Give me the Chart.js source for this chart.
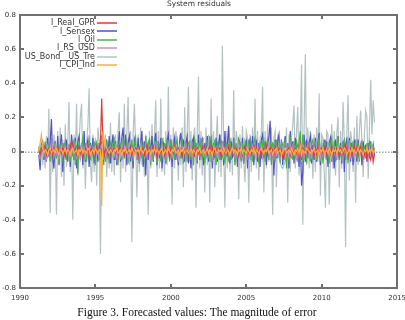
<!DOCTYPE html>
<html>
<head>
<meta charset="utf-8">
<script src="https://cdn.jsdelivr.net/npm/chart.js@4/dist/chart.umd.min.js"></script>
<style>
  html, body { margin: 0; padding: 0; background: #fff; overflow: hidden; width: 405px; height: 320px; }
  #wrap { position: relative; width: 412px; height: 320px; }
  #caption {
    position: absolute; left: 0; top: 305px; width: 394px; text-align: center;
    font-family: "Liberation Serif", serif; font-size: 11.5px; line-height: 14px; color: #111;
  }
</style>
</head>
<body>
<div id="wrap">
  <canvas id="residChart" width="412" height="320"></canvas>
  <div id="caption">Figure 3. Forecasted values: The magnitude of error</div>
</div>
<script>
// monthly residuals, first obs April 1991
const startYear = 1991 + 3 / 12;
const seriesNames = ["l_Real_GPR", "l_Sensex", "l_Oil", "l_RS_USD", "US_Bond__US_Tre", "l_CPI_Ind"];
const xTicks = [1990, 1995, 2000, 2005, 2010, 2015];
const yTicks = [-0.8, -0.6, -0.4, -0.2, 0, 0.2, 0.4, 0.6, 0.8];

const realGpr = [
  0.01, -0.02, 0.02, 0.01, -0.01, 0.03, -0.02, 0.01, 0.02, -0.01, 0.01, -0.02,
  0.02, -0.01, 0.01, 0.03, -0.02, 0.01, -0.01, 0.02, 0.01, -0.03, 0.02, 0.01,
  -0.01, 0.02, 0.06, 0.04, -0.01, 0.02, -0.02, 0.01, 0.03, -0.01, 0.02, -0.03,
  0.01, 0.02, -0.01, 0.03, -0.02, 0.01, 0.02, -0.01, 0.01, -0.02, 0.03, 0.01,
  -0.01, 0.05, 0.31, 0.04, -0.02, 0.01, 0.02, -0.03, 0.01, 0.02, -0.01, 0.01,
  0.02, -0.01, 0.01, -0.02, 0.03, 0.01, -0.01, 0.02, -0.02, 0.01, 0.02, -0.01,
  0.01, 0.03, -0.02, 0.01, -0.01, 0.02, 0.01, -0.03, 0.02, -0.01, 0.01, 0.02,
  -0.02, 0.01, 0.04, -0.01, 0.02, -0.02, 0.01, 0.03, -0.01, 0.02, -0.03, 0.01,
  0.02, -0.01, 0.01, 0.02, -0.02, 0.03, -0.01, 0.01, -0.04, 0.02, 0.01, -0.01,
  0.03, -0.02, 0.01, 0.02, -0.01, 0.01, -0.03, 0.02, 0.01, -0.01, 0.02, -0.02,
  0.01, 0.02, -0.01, 0.03, -0.02, 0.01, 0.02, -0.01, 0.01, -0.02, 0.03, 0.01,
  -0.01, 0.02, -0.02, 0.01, 0.03, -0.01, 0.02, -0.02, 0.01, 0.02, -0.01, 0.01,
  0.02, -0.03, 0.01, 0.02, -0.01, 0.01, -0.02, 0.03, -0.01, 0.02, 0.01, -0.02,
  0.01, 0.02, -0.01, -0.03, 0.02, 0.01, -0.02, 0.01, 0.03, -0.01, 0.02, -0.01,
  0.02, -0.02, 0.01, 0.03, -0.01, 0.02, -0.02, 0.01, 0.02, -0.03, 0.01, 0.02,
  -0.01, 0.03, -0.02, 0.01, 0.02, -0.01, 0.01, -0.02, 0.03, 0.01, -0.01, 0.02,
  -0.02, 0.01, -0.03, -0.04, 0.02, -0.01, 0.01, 0.02, -0.02, 0.03, -0.01, 0.01,
  0.02, -0.01, 0.03, -0.02, 0.04, -0.05, 0.02, 0.01, -0.02, 0.03, -0.01, 0.02,
  -0.01, 0.02, 0.01, -0.03, 0.02, -0.01, 0.03, -0.02, 0.01, 0.02, -0.01, 0.01,
  0.03, -0.02, 0.01, 0.02, -0.01, 0.03, -0.02, 0.01, -0.01, 0.02, 0.01, -0.03,
  0.02, 0.01, -0.02, 0.03, -0.01, 0.02, -0.03, 0.01, 0.02, -0.02, 0.01, 0.03,
  -0.01, 0.02, -0.02, 0.01, 0.03, -0.03, 0.01, -0.02, 0.02, -0.04, 0.01, -0.03,
  -0.05, 0.02, -0.06, -0.02
];

const sensex = [
  -0.02, -0.11, 0.04, 0.06, -0.05, 0.03, -0.06, 0.08, -0.03, 0.05, 0.19, -0.04,
  -0.1, 0.06, -0.04, 0.09, -0.08, 0.03, 0.1, -0.12, 0.05, -0.03, 0.07, -0.06,
  0.04, -0.09, 0.1, 0.02, -0.05, 0.08, -0.1, 0.06, 0.09, -0.04, 0.05, -0.08,
  0.12, -0.06, 0.03, 0.07, -0.09, 0.05, -0.03, 0.08, -0.07, 0.04, 0.02, -0.06,
  0.05, -0.04, 0.06, -0.08, 0.03, -0.05, 0.07, -0.03, 0.09, -0.07, 0.04, 0.1,
  -0.05, 0.06, -0.08, 0.03, 0.12, -0.06, 0.08, 0.14, -0.04, 0.1, -0.08, 0.05,
  0.09, -0.06, 0.04, -0.1, 0.07, 0.03, -0.05, 0.08, -0.07, 0.05, 0.12, -0.09,
  0.06, -0.14, 0.04, -0.05, 0.07, -0.03, 0.09, -0.06, 0.05, 0.11, -0.08, 0.06,
  -0.04, 0.08, -0.1, 0.05, 0.03, -0.07, 0.06, 0.1, -0.05, 0.07, -0.09, 0.04,
  0.08, -0.05, 0.03, -0.08, 0.06, 0.11, -0.04, 0.07, -0.06, 0.05, 0.09, -0.07,
  0.04, -0.1, 0.06, 0.08, -0.03, 0.05, -0.07, 0.1, -0.05, 0.04, 0.07, -0.08,
  0.05, -0.04, 0.09, -0.06, 0.03, 0.07, -0.1, 0.05, -0.04, 0.08, -0.06, 0.04,
  0.1, -0.05, 0.06, -0.08, 0.12, -0.03, 0.05, 0.15, -0.07, 0.06, -0.04, 0.08,
  -0.06, 0.04, -0.09, 0.07, 0.05, -0.05, 0.08, -0.07, 0.03, 0.06, -0.1, 0.04,
  0.07, -0.05, 0.09, -0.08, 0.04, 0.06, -0.06, 0.05, -0.09, 0.07, 0.1, -0.04,
  0.06, -0.08, 0.04, 0.08, 0.18, -0.06, 0.05, -0.14, 0.07, -0.04, 0.06, 0.1,
  -0.05, 0.07, -0.08, 0.04, 0.09, -0.06, 0.05, -0.1, 0.12, -0.04, 0.06, -0.07,
  0.08, -0.05, 0.04, -0.09, 0.06, -0.2, -0.12, 0.1, -0.06, 0.07, -0.04, 0.05,
  0.09, -0.07, 0.04, -0.05, 0.08, -0.06, 0.05, 0.11, -0.08, 0.04, -0.05, 0.07,
  -0.04, 0.06, -0.09, 0.05, 0.08, -0.06, 0.03, -0.1, 0.07, -0.05, 0.09, -0.04,
  0.05, -0.07, 0.06, -0.12, 0.04, 0.07, -0.05, 0.08, -0.06, 0.05, -0.08, 0.06,
  0.04, -0.06, 0.07, -0.04, 0.05, -0.08, 0.06, -0.03, 0.04, -0.06, 0.05, -0.04,
  0.06, -0.03, 0.04, -0.02
];

const oil = [
  0.03, -0.04, 0.02, 0.05, -0.03, 0.06, -0.05, 0.02, 0.04, -0.06, 0.03, 0.05,
  -0.04, 0.06, -0.02, 0.04, -0.07, 0.03, 0.05, -0.04, 0.02, 0.06, -0.05, 0.03,
  0.04, -0.06, 0.05, -0.03, 0.07, -0.08, 0.04, -0.13, 0.06, -0.05, 0.03, 0.08,
  -0.04, 0.05, -0.06, 0.03, 0.07, -0.05, 0.04, -0.03, 0.06, -0.08, 0.05, 0.02,
  -0.05, 0.07, 0.09, -0.04, 0.03, -0.06, 0.05, 0.02, -0.07, 0.06, -0.03, 0.04,
  0.07, -0.05, 0.03, -0.08, 0.06, 0.04, -0.05, 0.08, -0.04, 0.03, 0.06, -0.07,
  0.05, -0.03, 0.07, -0.06, 0.04, 0.08, -0.05, 0.03, -0.07, 0.06, -0.04, 0.05,
  -0.06, 0.09, -0.04, 0.05, 0.07, -0.08, 0.04, -0.05, 0.06, 0.03, -0.07, 0.05,
  0.04, -0.06, 0.08, -0.04, 0.05, -0.07, 0.06, 0.03, -0.05, 0.07, -0.04, 0.06,
  -0.05, 0.04, 0.07, -0.06, 0.03, -0.04, 0.08, -0.07, 0.05, 0.04, -0.06, 0.05,
  0.06, -0.05, 0.04, -0.08, 0.07, 0.03, -0.06, 0.05, -0.04, 0.08, -0.05, 0.04,
  -0.07, 0.05, 0.06, -0.04, 0.09, -0.06, 0.04, -0.05, 0.07, -0.08, 0.05, 0.03,
  -0.05, 0.07, -0.04, 0.06, -0.07, 0.05, 0.04, -0.06, 0.08, -0.05, 0.03, 0.06,
  -0.08, 0.05, -0.04, 0.07, 0.04, -0.06, 0.05, -0.07, 0.06, 0.03, -0.05, 0.07,
  -0.04, 0.06, -0.06, 0.05, 0.08, -0.05, 0.04, -0.07, 0.06, -0.04, 0.05, 0.07,
  -0.06, 0.04, 0.07, -0.05, 0.06, -0.08, 0.05, 0.04, -0.06, 0.07, -0.04, 0.05,
  -0.07, 0.06, 0.04, -0.05, 0.07, -0.1, 0.05, -0.06, 0.08, 0.04, -0.05, 0.06,
  -0.04, 0.07, -0.06, 0.05, 0.12, -0.08, 0.1, -0.05, 0.06, -0.07, 0.05, 0.04,
  -0.06, 0.05, 0.07, -0.04, 0.06, -0.05, 0.04, 0.08, -0.06, 0.05, -0.07, 0.04,
  0.06, -0.05, 0.04, -0.07, 0.05, 0.08, -0.04, 0.06, -0.06, 0.05, 0.07, -0.05,
  0.04, -0.06, 0.05, 0.07, -0.05, 0.04, -0.07, 0.06, 0.05, -0.04, 0.06, -0.05,
  0.07, -0.04, 0.05, -0.06, 0.04, 0.06, -0.05, 0.03, -0.04, 0.05, -0.03, 0.06,
  0.04, -0.02, 0.03, 0.01
];

const rsUsd = [
  0.01, -0.03, 0.02, 0.04, -0.02, 0.01, -0.04, 0.03, -0.01, 0.02, -0.03, 0.04,
  -0.02, 0.03, -0.01, 0.02, -0.04, 0.01, 0.03, -0.02, 0.02, -0.03, 0.01, 0.04,
  -0.03, 0.02, -0.01, 0.03, -0.02, 0.04, -0.03, 0.01, 0.02, -0.04, 0.03, -0.01,
  0.02, -0.03, 0.04, -0.02, 0.01, 0.03, -0.04, 0.02, -0.01, 0.03, -0.02, 0.01,
  -0.03, 0.02, 0.04, -0.05, 0.03, -0.02, 0.01, -0.03, 0.02, 0.03, -0.01, 0.02,
  -0.02, 0.03, -0.04, 0.02, 0.01, -0.03, 0.04, -0.02, 0.03, -0.01, 0.02, -0.03,
  0.04, -0.02, 0.01, -0.03, 0.02, 0.03, -0.04, 0.01, -0.02, 0.03, -0.01, 0.02,
  -0.03, 0.04, -0.02, 0.01, 0.03, -0.04, 0.02, -0.01, 0.03, -0.02, 0.04, -0.03,
  0.02, -0.01, 0.03, -0.04, 0.02, 0.01, -0.03, 0.04, -0.02, 0.01, -0.03, 0.02,
  0.03, -0.02, 0.01, -0.04, 0.03, -0.01, 0.02, -0.03, 0.04, -0.02, 0.01, 0.03,
  -0.02, 0.04, -0.03, 0.01, 0.02, -0.04, 0.03, -0.01, 0.02, -0.03, 0.04, -0.02,
  0.01, -0.03, 0.02, 0.04, -0.02, 0.01, -0.04, 0.03, -0.01, 0.02, -0.03, 0.01,
  0.03, -0.02, 0.04, -0.03, 0.01, 0.02, -0.04, 0.03, -0.02, 0.01, 0.03, -0.01,
  -0.03, 0.02, -0.01, 0.04, -0.02, 0.03, -0.04, 0.01, 0.02, -0.03, 0.04, -0.02,
  0.01, -0.04, 0.03, -0.01, 0.02, -0.03, 0.04, -0.02, 0.01, 0.03, -0.04, 0.02,
  -0.01, 0.03, -0.02, 0.04, -0.03, 0.01, 0.02, -0.04, 0.03, -0.02, 0.01, 0.04,
  -0.03, 0.02, -0.01, 0.03, -0.04, 0.02, 0.01, -0.03, 0.04, -0.02, 0.03, -0.01,
  0.02, -0.04, 0.03, -0.02, 0.05, -0.06, 0.04, -0.03, 0.02, -0.01, 0.03, -0.02,
  0.04, -0.03, 0.01, 0.02, -0.04, 0.03, -0.01, 0.02, -0.03, 0.04, -0.02, 0.01,
  -0.03, 0.02, 0.04, -0.02, 0.01, -0.04, 0.03, -0.01, 0.02, -0.03, 0.04, -0.02,
  0.01, 0.03, -0.04, 0.02, -0.01, 0.03, -0.02, 0.04, -0.03, 0.01, 0.02, -0.04,
  0.03, -0.01, 0.02, -0.03, 0.04, -0.02, 0.01, -0.03, 0.02, 0.03, -0.04, 0.02,
  -0.01, 0.03, -0.02, 0.01
];

const usBond = [
  0.02, -0.05, 0.06, -0.08, 0.04, -0.1, 0.09, -0.04, 0.25, -0.36, 0.08, -0.12,
  0.1, 0.05, -0.37, 0.12, -0.06, 0.14, -0.15, 0.07, -0.2, 0.16, -0.09, 0.05,
  0.29, -0.12, 0.08, -0.4, 0.1, -0.05, 0.28, -0.14, 0.06, 0.2, 0.28, -0.1,
  0.12, -0.22, 0.05, 0.15, 0.37, -0.08, -0.18, 0.1, -0.12, 0.08, -0.2, 0.14,
  0.06, -0.6, 0.04, 0.12, -0.08, 0.1, -0.15, 0.06, -0.1, 0.17, -0.12, 0.08,
  -0.14, 0.1, -0.06, 0.12, 0.23, -0.18, 0.08, -0.1, 0.28, -0.12, 0.1, 0.32,
  -0.08, 0.12, -0.53, 0.1, 0.28, 0.04, -0.27, 0.1, -0.12, 0.14, -0.08, 0.06,
  -0.15, 0.1, 0.05, -0.37, 0.12, -0.1, 0.16, -0.06, 0.1, 0.3, -0.15, 0.12,
  -0.1, 0.31, -0.12, 0.08, -0.14, 0.12, -0.08, 0.38, -0.06, 0.1, -0.31, 0.14,
  -0.1, 0.12, 0.06, -0.17, 0.1, -0.08, 0.14, -0.21, 0.26, -0.12, 0.1, 0.38,
  -0.06, 0.12, -0.17, 0.08, 0.14, -0.33, 0.1, 0.44, -0.1, 0.12, -0.14, 0.08,
  -0.24, 0.14, -0.08, 0.1, -0.3, 0.31, -0.06, 0.12, -0.21, 0.06, 0.21, -0.12,
  0.1, -0.15, 0.62, 0.05, -0.33, 0.12, -0.1, 0.14, -0.12, 0.08, -0.14, 0.36,
  -0.08, 0.12, 0.06, -0.28, 0.1, -0.1, 0.15, -0.06, -0.18, 0.12, 0.08, -0.3,
  0.1, -0.12, 0.14, -0.06, 0.31, -0.1, 0.12, -0.17, 0.08, 0.1, 0.38, -0.24,
  0.12, -0.1, 0.16, -0.06, 0.1, 0.14, -0.37, 0.08, 0.12, -0.21, 0.1, -0.04,
  -0.06, -0.09, -0.1, -0.08, -0.05, 0.14, -0.3, 0.1, -0.12, 0.08, 0.16, 0.27,
  -0.1, 0.12, 0.26, -0.14, 0.1, 0.51, -0.43, 0.12, 0.57, -0.08, 0.14, -0.1,
  0.12, 0.06, -0.16, 0.1, -0.12, 0.14, -0.06, 0.34, -0.26, 0.1, 0.08, -0.12,
  -0.33, 0.12, 0.1, -0.31, -0.04, 0.16, -0.1, 0.12, -0.14, 0.1, 0.2, -0.21,
  0.12, -0.1, 0.29, 0.06, -0.56, 0.1, 0.33, -0.17, 0.12, 0.06, -0.12, 0.14,
  -0.3, 0.21, -0.08, 0.12, 0.24, 0.06, -0.15, 0.1, 0.24, 0.2, -0.16, 0.12,
  0.42, 0.1, 0.3, 0.17
];

const cpiInd = [
  0.0, 0.05, 0.1, 0.02, -0.01, 0.01, 0.0, -0.02, 0.01, 0.02, -0.01, 0.0,
  0.01, -0.01, 0.02, 0.0, -0.02, 0.01, 0.01, -0.01, 0.0, 0.02, -0.01, 0.01,
  0.0, -0.02, 0.01, 0.02, -0.01, 0.0, 0.01, -0.02, 0.01, 0.0, 0.02, -0.01,
  0.01, 0.0, -0.01, 0.02, 0.01, -0.02, 0.0, 0.01, -0.01, 0.02, 0.0, -0.01,
  0.01, 0.0, -0.32, 0.12, 0.07, 0.04, 0.02, 0.0, -0.01, 0.01, 0.0, -0.02,
  0.01, 0.0, 0.02, -0.01, 0.0, 0.01, -0.02, 0.01, 0.0, 0.02, -0.01, 0.0,
  0.01, -0.01, 0.02, 0.0, -0.02, 0.01, 0.0, 0.01, -0.01, 0.02, 0.0, -0.01,
  0.01, 0.02, -0.01, 0.0, 0.01, -0.02, 0.01, 0.0, 0.02, -0.01, 0.01, 0.0,
  -0.01, 0.01, 0.02, -0.02, 0.0, 0.01, -0.01, 0.02, 0.0, -0.01, 0.01, 0.0,
  0.02, -0.01, 0.0, 0.01, -0.02, 0.01, 0.0, 0.02, -0.01, 0.0, 0.01, -0.01,
  0.0, 0.02, -0.01, 0.01, 0.0, -0.02, 0.01, 0.0, 0.02, -0.01, 0.0, 0.01,
  -0.01, 0.0, 0.02, -0.01, 0.01, 0.0, -0.02, 0.01, 0.02, 0.0, -0.01, 0.01,
  0.0, 0.01, -0.01, 0.02, 0.0, -0.01, 0.01, 0.0, -0.02, 0.01, 0.02, -0.01,
  0.01, 0.0, -0.02, 0.01, 0.0, 0.02, -0.01, 0.01, 0.0, -0.01, 0.02, 0.0,
  -0.01, 0.01, 0.0, 0.02, -0.02, 0.01, 0.0, -0.01, 0.01, 0.02, 0.0, -0.01,
  0.01, 0.0, 0.02, -0.01, 0.0, 0.01, -0.02, 0.0, 0.01, 0.02, -0.01, 0.0,
  0.01, -0.02, 0.0, 0.01, 0.02, -0.01, 0.0, 0.01, -0.01, 0.02, 0.0, -0.02,
  0.01, 0.0, 0.02, -0.01, 0.03, -0.02, 0.01, 0.0, -0.01, 0.02, 0.01, 0.0,
  -0.01, 0.01, 0.0, 0.02, -0.01, 0.0, 0.01, -0.02, 0.01, 0.0, 0.02, -0.01,
  0.0, 0.01, -0.01, 0.02, 0.0, -0.02, 0.01, 0.0, 0.01, -0.01, 0.02, 0.0,
  0.01, -0.01, 0.0, 0.02, 0.01, -0.02, 0.0, 0.01, -0.01, 0.02, 0.0, 0.01,
  -0.01, 0.0, 0.02, -0.01, 0.01, 0.0, -0.02, 0.01, 0.0, 0.02, -0.01, 0.01,
  0.0, 0.02, -0.01, 0.01
];

const seriesValues = [realGpr, sensex, oil, rsUsd, usBond, cpiInd];
const seriesColors = ["#dc3c3c", "#5252c8", "#46b250", "#c890cc", "#b4c2c2", "#f2b246"];
const drawOrder = [1, 4, 3, 2, 5, 0]; // grey at the back, CPI on top
const frameColor = "#707070";

const toPoints = vals => vals.map((v, i) => ({ x: startYear + i / 12, y: v }));

// gnuplot look: dotted zero axis, boxed frame, inward ticks
const gnuplotFrame = {
  id: "gnuplotFrame",
  beforeDatasetsDraw(chart) {
    const { ctx, chartArea, scales } = chart;
    const y0 = Math.round(scales.y.getPixelForValue(0));
    ctx.save();
    ctx.fillStyle = "#a8a8a8";
    for (let x = chartArea.left + 2; x < chartArea.right; x += 3) ctx.fillRect(x, y0 - 0.5, 1.5, 1.5);
    ctx.restore();
  },
  afterDraw(chart) {
    const { ctx, chartArea, scales } = chart;
    const l = Math.round(chartArea.left), r = Math.round(chartArea.right);
    const t = Math.round(chartArea.top), b = Math.round(chartArea.bottom);
    ctx.save();
    ctx.fillStyle = frameColor;
    ctx.fillRect(l - 1, t - 1, r - l + 2, 2);
    ctx.fillRect(l - 1, b - 1, r - l + 2, 2);
    ctx.fillRect(l - 1, t - 1, 2, b - t + 2);
    ctx.fillRect(r - 1, t - 1, 2, b - t + 2);
    yTicks.forEach(v => {
      const py = Math.round(scales.y.getPixelForValue(v));
      ctx.fillRect(l, py - 1, 4, 2);
      ctx.fillRect(r - 4, py - 1, 4, 2);
    });
    xTicks.forEach(v => {
      const px = Math.round(scales.x.getPixelForValue(v));
      ctx.fillRect(px - 1, b - 4, 2, 4);
      ctx.fillRect(px - 1, t, 2, 4);
    });
    ctx.restore();
  }
};

// key in the top-left corner, text right-aligned with the sample line after it
const gnuplotKey = {
  id: "gnuplotKey",
  afterDraw(chart) {
    const { ctx, chartArea } = chart;
    ctx.save();
    ctx.font = '8px "DejaVu Sans"';
    ctx.textAlign = "right";
    ctx.textBaseline = "middle";
    chart.data.datasets.forEach((ds, k) => {
      const y = chartArea.top + 8 + k * 8.45;
      ctx.fillStyle = "#333";
      ctx.fillText(ds.label, chartArea.left + 75, y);
      ctx.fillStyle = ds.borderColor;
      ctx.fillRect(chartArea.left + 77, Math.round(y) - 0.75, 20, 1.5);
    });
    ctx.restore();
  }
};

new Chart(document.getElementById("residChart"), {
  type: "line",
  data: {
    datasets: seriesNames.map((name, k) => ({
      label: name,
      data: toPoints(seriesValues[k]),
      borderColor: seriesColors[k],
      borderWidth: 1.2,
      pointRadius: 0,
      tension: 0,
      fill: false,
      order: drawOrder[k]
    }))
  },
  options: {
    responsive: false,
    animation: false,
    layout: { padding: { left: 0, right: 14, top: 0, bottom: 0 } },
    plugins: {
      legend: { display: false },
      tooltip: { enabled: false },
      title: {
        display: true,
        text: "System residuals",
        color: "#333",
        font: { family: "DejaVu Sans", size: 7.5, weight: "normal", lineHeight: 1 },
        padding: { top: 0, bottom: 7.5 }
      }
    },
    scales: {
      x: {
        type: "linear",
        min: 1990,
        max: 2015,
        afterBuildTicks: s => { s.ticks = xTicks.map(v => ({ value: v })); },
        afterFit: s => { s.height = 32; },
        grid: { display: false, drawTicks: false },
        border: { display: false },
        ticks: { color: "#333", font: { family: "DejaVu Sans", size: 7 }, padding: 6, maxRotation: 0, callback: v => String(v) }
      },
      y: {
        min: -0.8,
        max: 0.8,
        afterBuildTicks: s => { s.ticks = yTicks.map(v => ({ value: v })); },
        afterFit: s => { s.width = 20; },
        grid: { display: false, drawTicks: false },
        border: { display: false },
        ticks: { color: "#333", font: { family: "DejaVu Sans", size: 7 }, padding: 4, callback: v => String(Number(v.toFixed(1))) }
      }
    }
  },
  plugins: [gnuplotFrame, gnuplotKey]
});
</script>
</body>
</html>
